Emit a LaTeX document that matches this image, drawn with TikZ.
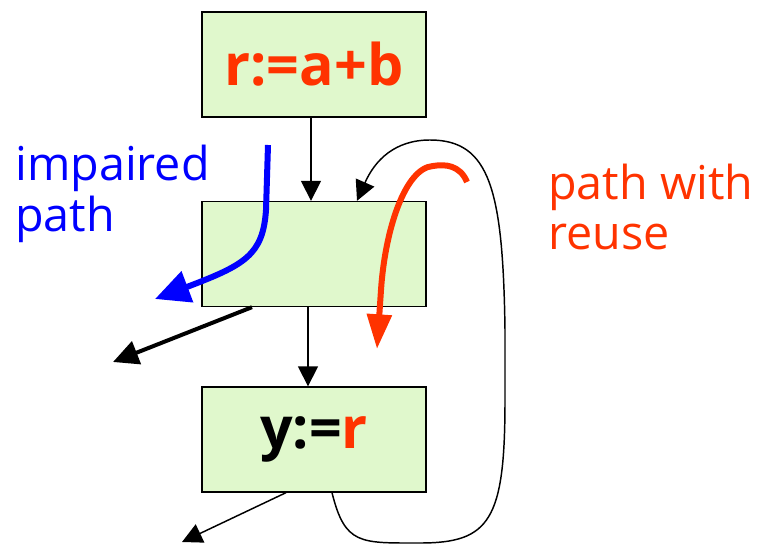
\documentclass[tikz,border=0pt]{standalone}
\usepackage{fontspec}
\setmainfont{Open Sans}
\usetikzlibrary{arrows.meta, calc}
\definecolor{blockgreen}{HTML}{E0F8CC}
\definecolor{reuseorange}{HTML}{FF3300}
\definecolor{impairblue}{HTML}{0000FF}

\begin{document}
\begin{tikzpicture}[x=0.75pt, y=-0.75pt,
    block/.style={draw, line width=1pt, fill=blockgreen, minimum width=168pt, minimum height=78.75pt, inner sep=0pt, font=\fontsize{43}{45}\selectfont\bfseries},
    flow/.style={line width=1.1pt, -{Triangle[length=15pt, width=15pt]}},
    labeltext/.style={align=left, anchor=west, font=\fontsize{35}{38}\selectfont, inner sep=0pt}]
    \useasboundingbox (0,0) rectangle (764,545);
    % blocks
    \node[block, text=reuseorange] (def) at (314,64.5) {r:=a+b};
    \node[block] (mid) at (314,254) {};
    \node[block] (use) at (314,439.5) {y:=\textcolor{reuseorange}{r}};
    % edges
    \draw[flow] ($(def.south)+(-3,0)$) -- ($(mid.north)+(-3,0)$);
    \draw[flow] ($(mid.south)+(-6,0)$) -- ($(use.north)+(-6,0)$);
    \coordinate (midout) at (113,362);
    \coordinate (useout) at (182,542);
    \draw[line width=3pt, -{Triangle[length=19pt, width=18pt]}] ($(mid.south)+(-62,0)$) -- (midout);
    \draw[flow] ($(use.south)+(-28,0)$) -- (useout);
    \draw[flow] ($(use.south)+(18,0)$) .. controls (345,545) and (360,543) .. (420,543)
        .. controls (490,543) and (505,520) .. (505,400) -- (505,330)
        .. controls (503,190) and (490,140) .. (430,140)
        .. controls (395,140) and (375,160) .. ($(mid.north)+(43,0)$);
    % paths
    \coordinate (bluestart) at (268,145);
    \coordinate (blueend) at (155,299);
    \draw[impairblue, line width=4.5pt, -{Triangle[length=26pt, width=24pt]}] (bluestart) -- (266,210)
        .. controls (263,255) and (245,265) .. (blueend);
    \coordinate (redstart) at (467,182);
    \coordinate (redend) at (377,349);
    \draw[reuseorange, line width=4.5pt, -{Triangle[length=26pt, width=18pt]}] (redstart)
        .. controls (460,165) and (445,164) .. (433,166)
        .. controls (405,168) and (385,230) .. (381,290) -- (redend);
    % labels
    \node[labeltext, text=impairblue] (impaired) at (15,194) {impaired\\path};
    \node[labeltext, text=reuseorange] (reuse) at (548,207) {path with\\reuse};
\end{tikzpicture}
\end{document}
